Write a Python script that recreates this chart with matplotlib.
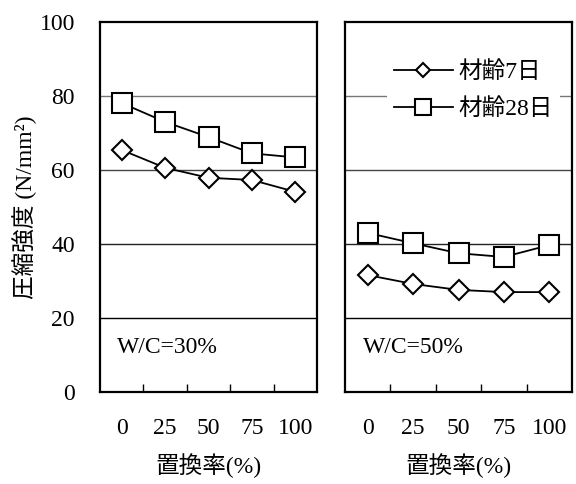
import matplotlib
matplotlib.use("Agg")
import matplotlib.pyplot as plt
import numpy as np

plt.rcParams['font.family'] = ['Liberation Serif', 'Noto Sans CJK JP']

# data
ratios = ["0", "25", "50", "75", "100"]
wc30_7d = [65.4, 60.6, 57.9, 57.3, 54.1]
wc30_28d = [78.1, 73.0, 68.9, 64.5, 63.4]
wc50_7d = [31.6, 29.2, 27.6, 27.0, 27.0]
wc50_28d = [43.0, 40.2, 37.5, 36.5, 39.7]
panel_labels = ["W/C=30%", "W/C=50%"]
series_names = ["材齢7日", "材齢28日"]
grid_levels = [20, 40, 60, 80]
grid_colors = ["black", "#222222", "#444444", "#777777"]

W, H = 576, 484
fig = plt.figure(figsize=(W / 100, H / 100), dpi=100)
ax1 = fig.add_axes([100 / W, 92 / H, 217 / W, 370 / H])
ax2 = fig.add_axes([345 / W, 92 / H, 227 / W, 370 / H])

xs = np.arange(len(ratios))
for ax, d7, d28, lab in [(ax1, wc30_7d, wc30_28d, panel_labels[0]),
                         (ax2, wc50_7d, wc50_28d, panel_labels[1])]:
    for g, c in zip(grid_levels, grid_colors):
        ax.axhline(g, color=c, lw=1.0, zorder=1)
    ax.plot(xs, d7, color="black", lw=1.3, marker="D", ms=10,
            mfc="white", mec="black", mew=1.5, zorder=3, label=series_names[0])
    ax.plot(xs, d28, color="black", lw=1.3, marker="s", ms=15,
            mfc="white", mec="black", mew=1.5, zorder=3, label=series_names[1])
    ax.set_xlim(-0.5, len(ratios) - 0.5)
    ax.set_ylim(0, 100)
    ax.set_xticks(xs)
    ax.set_xticklabels(ratios, fontsize=17)
    ax.set_xticks(xs[:-1] + 0.5, minor=True)
    ax.tick_params(axis="x", which="major", length=0, pad=19)
    ax.tick_params(axis="x", which="minor", direction="in", length=6, width=1)
    ax.set_xlabel("置換率(%)", fontsize=17, labelpad=10)
    for s in ax.spines.values():
        s.set_linewidth(1.6)
    ax.text(0.08, 0.12, lab, transform=ax.transAxes, fontsize=17,
            ha="left", va="center")

ax1.set_yticks([0, 20, 40, 60, 80, 100])
ax1.set_yticklabels(["0", "20", "40", "60", "80", "100"], fontsize=17)
ax1.tick_params(axis="y", length=0, pad=18)
ax1.set_ylabel("圧縮強度 (N/mm²)", fontsize=17, labelpad=2)
ax2.set_yticks([])

leg = ax2.legend(loc="upper right", bbox_to_anchor=(1.0, 0.945), fontsize=17,
                 frameon=True, facecolor="white", edgecolor="none", framealpha=1,
                 handlelength=2.5, handletextpad=0.25, labelspacing=0.65,
                 markerscale=0.75, borderpad=0.3)

fig.savefig("out.png", dpi=100)
